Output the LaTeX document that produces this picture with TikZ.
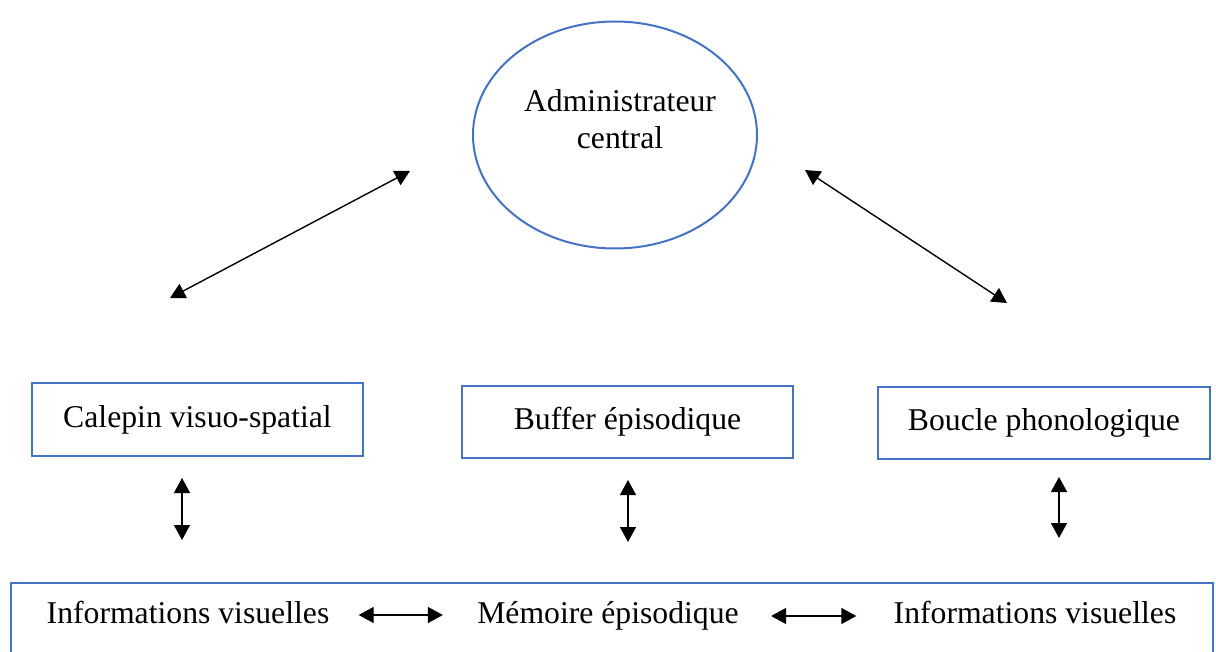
\documentclass[tikz,border=0pt]{standalone}
\usepackage{fontspec}
\setmainfont{Liberation Serif}
\usetikzlibrary{arrows.meta,shapes.geometric}
\definecolor{boxblue}{HTML}{4472C4}
\begin{document}
\begin{tikzpicture}[x=0.5pt,y=-0.5pt,
  every node/.style={font=\fontsize{15.85}{18.5}\selectfont, inner sep=0pt},
  blbox/.style={draw=boxblue, line width=1pt, rectangle},
  dbl/.style={{Triangle[length=7.5pt,width=8pt]}-{Triangle[length=7.5pt,width=8pt]}, line width=0.7pt, black},
  lbl/.style={align=center},
  basetxt/.style={anchor=base}]
\useasboundingbox (0,0) rectangle (1216,652);
% central executive
\node[blbox, ellipse, minimum width=142pt, minimum height=113.5pt] (admin) at (615,135) {};
\node[lbl] (admintxt) at (620,119) {Administrateur\\central};
% three components
\node[blbox, minimum width=165.5pt, minimum height=36.5pt] (calepin) at (197.5,419.5) {Calepin visuo-spatial};
\node[blbox, minimum width=165.5pt, minimum height=36pt] (buffer) at (627.5,422) {Buffer épisodique};
\node[blbox, minimum width=166pt, minimum height=36pt] (boucle) at (1044,423) {Boucle phonologique};
% bottom box
\node[blbox, anchor=north west, minimum width=601pt, minimum height=50pt] (ltm) at (10,582) {};
\node[basetxt] (infoL) at (188,623) {Informations visuelles};
\node[basetxt] (mem) at (608,623) {Mémoire épisodique};
\node[basetxt] (infoR) at (1035,623) {Informations visuelles};
% free arrow ends
\coordinate (dl1) at (170,298);
\coordinate (dl2) at (410,171);
\coordinate (dr1) at (805,170);
\coordinate (dr2) at (1007,303);
\coordinate (v1a) at (182,478);
\coordinate (v1b) at (182,540);
\coordinate (v2a) at (628,480);
\coordinate (v2b) at (628,542);
\coordinate (v3a) at (1059,477);
\coordinate (v3b) at (1059,538);
% connectors
\draw[dbl] (dl1) -- (dl2);
\draw[dbl] (dr1) -- (dr2);
\draw[dbl] (v1a) -- (v1b);
\draw[dbl] (v2a) -- (v2b);
\draw[dbl] (v3a) -- (v3b);
\draw[dbl] ([xshift=14.5pt,yshift=4pt]infoL.base east) -- ([xshift=-17pt,yshift=4pt]mem.base west);
\draw[dbl] ([xshift=16pt,yshift=3.5pt]mem.base east) -- ([xshift=-18.5pt,yshift=3.5pt]infoR.base west);
\end{tikzpicture}
\end{document}
